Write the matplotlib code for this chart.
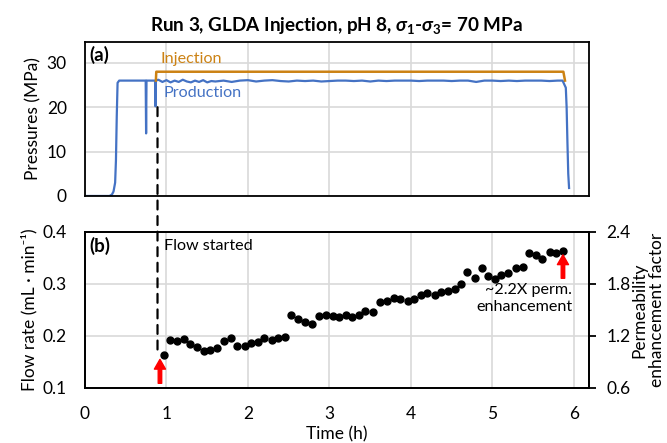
import matplotlib.pyplot as plt
from matplotlib.patches import ConnectionPatch

plt.rcParams['font.family'] = ['Lato', 'DejaVu Sans']
plt.rcParams['mathtext.fontset'] = 'custom'
plt.rcParams['mathtext.rm'] = 'Lato:bold'
plt.rcParams['mathtext.it'] = 'Lato:italic:bold'
plt.rcParams['mathtext.bf'] = 'Lato:bold'

# --------------------------------
# Data
# --------------------------------
# panel (a): pressures
inj_t = [0.87, 0.875, 5.87, 5.89]
inj_p = [26.0, 28.0, 28.0, 26.0]

prod_t = [0.0, 0.30, 0.33, 0.35, 0.37, 0.38, 0.39, 0.40, 0.42,
          0.745, 0.75, 0.755, 0.86, 0.865, 0.87,
          0.90, 0.95, 1.00, 1.05, 1.10, 1.15, 1.20, 1.25, 1.30, 1.35,
          1.40, 1.45, 1.50, 1.55, 1.60, 1.70, 1.80, 1.90, 2.00, 2.10,
          2.20, 2.30, 2.40, 2.50, 2.60, 2.70, 2.80, 2.90, 3.00, 3.10,
          3.20, 3.30, 3.40, 3.50, 3.60, 3.70, 3.80, 3.90, 4.00, 4.10,
          4.20, 4.30, 4.40, 4.50, 4.60, 4.70, 4.80, 4.90, 5.00, 5.10,
          5.20, 5.30, 5.40, 5.50, 5.60, 5.70, 5.80, 5.86,
          5.88, 5.90, 5.91, 5.92, 5.93, 5.94]
prod_p = [0.0, 0.0, 0.3, 1.0, 3.0, 8.0, 18.0, 25.5, 26.0,
          26.0, 14.1, 26.0, 26.0, 20.2, 26.0,
          26.2, 25.7, 26.1, 25.6, 26.0, 25.7, 26.2, 25.8, 25.6, 26.0,
          25.7, 26.1, 25.6, 25.9, 25.8, 26.0, 25.7, 26.0, 26.1, 25.8,
          26.0, 26.1, 25.9, 25.8, 26.0, 25.9, 26.0, 25.8, 25.9, 26.0,
          26.0, 25.9, 26.0, 25.8, 26.0, 25.9, 26.0, 26.0, 26.0, 25.9,
          26.0, 26.0, 26.0, 25.9, 26.0, 26.0, 25.7, 26.0, 26.0, 25.9,
          26.0, 25.9, 26.0, 26.0, 26.0, 25.9, 26.0, 26.0,
          25.2, 24.4, 20.0, 12.0, 5.0, 1.8]

# panel (b): flow rate
flow_t = [0.97, 1.04, 1.13, 1.21, 1.29, 1.37, 1.46, 1.54, 1.62, 1.70,
          1.79, 1.87, 1.96, 2.04, 2.12, 2.20, 2.29, 2.37, 2.46, 2.53,
          2.62, 2.70, 2.78, 2.87, 2.96, 3.04, 3.12, 3.20, 3.28, 3.36,
          3.44, 3.53, 3.62, 3.70, 3.79, 3.87, 3.96, 4.04, 4.12, 4.20,
          4.29, 4.37, 4.46, 4.54, 4.62, 4.69, 4.78, 4.87, 4.95, 5.03,
          5.11, 5.19, 5.29, 5.37, 5.45, 5.53, 5.61, 5.70, 5.78, 5.86]
flow_q = [0.164, 0.192, 0.191, 0.195, 0.184, 0.179, 0.172, 0.174, 0.176, 0.190,
          0.196, 0.181, 0.181, 0.186, 0.188, 0.197, 0.192, 0.197, 0.199, 0.240,
          0.233, 0.226, 0.224, 0.238, 0.240, 0.238, 0.237, 0.241, 0.237, 0.241,
          0.248, 0.246, 0.265, 0.268, 0.273, 0.271, 0.268, 0.272, 0.279, 0.282,
          0.278, 0.284, 0.287, 0.290, 0.300, 0.323, 0.312, 0.331, 0.315, 0.309,
          0.317, 0.322, 0.330, 0.333, 0.359, 0.356, 0.349, 0.362, 0.360, 0.364]

x_ticks = [0, 1, 2, 3, 4, 5, 6]
p_ticks = [0, 10, 20, 30]
q_ticks = [0.1, 0.2, 0.3, 0.4]
k_ticks = [0.6, 1.2, 1.8, 2.4]

flow_start = 0.89

# --------------------------------
# Plot
# --------------------------------
blue = '#4472C4'
orange = '#CC8214'
grid_c = '#D9D9D9'
fs = 12.5     # ticks and axis labels
fs_ann = 11.6  # annotations inside the panels

fig = plt.figure(figsize=(6.67, 4.43), dpi=100)
ax1 = fig.add_axes([0.1274, 0.5576, 0.7551, 0.3476])
ax2 = fig.add_axes([0.1274, 0.1242, 0.7551, 0.3521])

for ax in (ax1, ax2):
    ax.set_xlim(0, 6.18)
    ax.set_xticks(x_ticks)
    ax.grid(True, color=grid_c, linewidth=1.2)
    ax.set_axisbelow(True)
    for s in ax.spines.values():
        s.set_linewidth(1.3)
    ax.tick_params(axis='both', length=0, labelsize=fs, pad=13)

# (a)
ax1.plot(prod_t, prod_p, color=blue, linewidth=1.6)
ax1.plot(inj_t, inj_p, color=orange, linewidth=1.8)
ax1.set_ylim(0, 34.7)
ax1.set_yticks(p_ticks)
ax1.set_xticklabels([])
ax1.set_ylabel("Pressures (MPa)", fontsize=fs, labelpad=4)
ax1.text(0.06, 31.8, "(a)", fontsize=13.5, fontweight='bold', va='center')
ax1.text(0.93, 30.9, "Injection", fontsize=fs_ann, color=orange, va='center')
ax1.text(0.96, 23.3, "Production", fontsize=fs_ann, color=blue, va='center')
ax1.set_title(r"Run 3, GLDA Injection, pH 8, $\sigma_1$-$\sigma_3$= 70 MPa",
              fontsize=13.6, fontweight='bold', pad=8)

# (b)
ax2.plot(flow_t, flow_q, 'o', color='black', markersize=5)
ax2.set_ylim(0.1, 0.4)
ax2.set_yticks(q_ticks)
ax2.set_xlabel("Time (h)", fontsize=fs, labelpad=3)
ax2.set_ylabel("Flow rate (mL \u00b7 min\u207b\u00b9)", fontsize=fs, labelpad=4)
ax2.tick_params(axis='x', pad=13)
ax2.text(0.06, 0.373, "(b)", fontsize=13.5, fontweight='bold', va='center')
ax2.text(0.97, 0.374, "Flow started", fontsize=fs_ann, va='center')
ax2.text(5.98, 0.302, "~2.2X perm.\nenhancement", fontsize=fs_ann, ha='right',
         va='top', linespacing=1.3)

ax2.annotate("", xy=(0.92, 0.155), xytext=(0.92, 0.109),
             arrowprops=dict(facecolor='red', edgecolor='red', width=2.5,
                             headwidth=8, headlength=7, shrink=0))
ax2.annotate("", xy=(5.865, 0.356), xytext=(5.865, 0.311),
             arrowprops=dict(facecolor='red', edgecolor='red', width=2.5,
                             headwidth=8, headlength=7, shrink=0))

ax3 = ax2.twinx()
ax3.set_ylim(0.6, 2.4)
ax3.set_yticks(k_ticks)
ax3.set_yticklabels(["0.6", "1.2", "1.8", "2.4"])
ax3.tick_params(axis='y', length=5, width=1.3, labelsize=fs, pad=8)
for s in ax3.spines.values():
    s.set_linewidth(1.3)
fig.text(0.972, 0.30, "Permeability\nenhancement factor", fontsize=fs,
         rotation=90, ha='center', va='center', linespacing=1.15)

# dashed "flow started" marker across both panels
con = ConnectionPatch(xyA=(flow_start, 20.0), coordsA=ax1.transData,
                      xyB=(flow_start, 0.163), coordsB=ax2.transData,
                      linestyle=(0, (4, 3)), color='black', linewidth=1.6)
fig.add_artist(con)

fig.savefig("out.png", dpi=100)
